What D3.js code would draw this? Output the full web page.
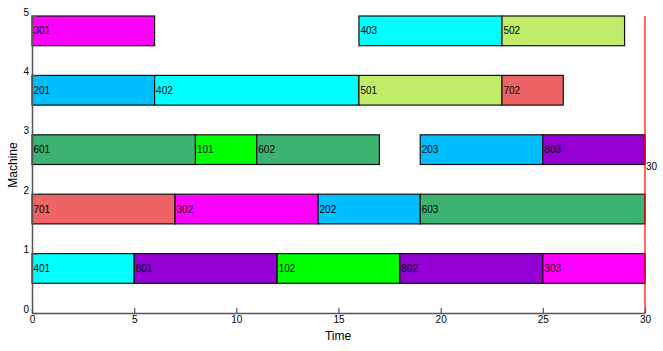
<!DOCTYPE html>
<html><head><meta charset="utf-8">
<script src="https://cdn.jsdelivr.net/npm/d3@7"></script>
<style>body{margin:0;background:#fff}svg{display:block}text{font-family:Arial,"Liberation Sans",sans-serif}</style>
</head><body><svg id="c" width="663" height="351"></svg>
<script>
const machines = [1,2,3,4,5];
const labels = ["401","801","102","802","303", "701","302","202","603", "601","101","602","203","803", "201","402","501","702", "301","403","502"];
const machineOf = [1,1,1,1,1, 2,2,2,2, 3,3,3,3,3, 4,4,4,4, 5,5,5];
const starts = [0,5,12,18,25, 0,7,14,19, 0,8,11,19,25, 0,6,16,23, 0,16,23];
const ends   = [5,12,18,25,30, 7,14,19,30, 8,11,17,25,30, 6,16,23,26, 6,23,29];
const jobColors = ["#00ff00","#00bfff","#ff00ff","#00ffff","#c0ec6a","#3cb371","#ee6363","#9400d3"];
const xTicks = [0,5,10,15,20,25,30];
const yTicks = [0,1,2,3,4,5];
const makespan = 30;

const svg = d3.select("#c");
const x = d3.scaleLinear().domain([0,30]).range([32,645]);
const y = d3.scaleLinear().domain([0,5]).range([313,16]);

const g = svg.append("g");
labels.forEach((lab,i)=>{
  const m = machineOf[i];
  g.append("rect")
    .attr("x", x(starts[i])).attr("y", y(m))
    .attr("width", x(ends[i])-x(starts[i])).attr("height", y(m-0.5)-y(m))
    .attr("fill", jobColors[+lab[0]-1]).attr("stroke","#111").attr("stroke-width",1.2);
  g.append("text").attr("x", x(starts[i])+1.5).attr("y", y(m-0.25)).attr("dy","0.35em")
    .attr("font-size",10).attr("fill","#000").text(lab);
});

// makespan line
svg.append("line").attr("x1",x(makespan)).attr("x2",x(makespan)).attr("y1",y(5)).attr("y2",y(0))
  .attr("stroke","#ff0000").attr("stroke-width",1.2);
svg.append("text").attr("x",x(makespan)+1).attr("y",y(2.47)).attr("dy","0.35em").attr("font-size",10).text(makespan);

const xa = svg.append("g").attr("transform",`translate(0,${y(0)})`)
  .call(d3.axisBottom(x).tickValues(xTicks).tickFormat(d3.format("d")).tickSizeInner(-5).tickSizeOuter(0).tickPadding(3));
const ya = svg.append("g").attr("transform",`translate(${x(0)},0)`)
  .call(d3.axisLeft(y).tickValues(yTicks).tickFormat(d3.format("d")).tickSizeInner(-5).tickSizeOuter(0).tickPadding(3));
[xa,ya].forEach(a=>{
  a.select(".domain").attr("stroke","#555").attr("stroke-width",1.5);
  a.selectAll(".tick line").attr("stroke","#555").attr("stroke-width",1.2);
  a.selectAll(".tick text").attr("font-size",10).attr("font-family","Arial,'Liberation Sans',sans-serif").attr("fill","#000");
});
ya.selectAll(".tick text").attr("dy","-0.1em");

svg.append("text").attr("x",338).attr("y",340).attr("text-anchor","middle").attr("font-size",12).text("Time");
svg.append("text").attr("transform","translate(17,165) rotate(-90)").attr("text-anchor","middle").attr("font-size",12).text("Machine");
</script></body></html>
